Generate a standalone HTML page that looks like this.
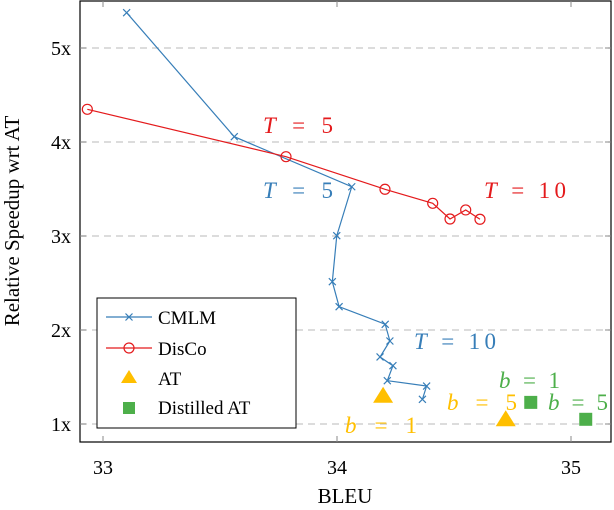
<!DOCTYPE html>
<html><head><meta charset="utf-8"><style>
html,body{margin:0;padding:0;background:#fff;}
svg{display:block;font-family:"Liberation Serif",serif;}
</style></head><body>
<svg id="chart" width="614" height="510" viewBox="0 0 614 510" xmlns="http://www.w3.org/2000/svg">
<g id="grid"></g>
<g id="series"></g>
<rect x="80" y="1" width="531" height="441" fill="none" stroke="#000" stroke-width="1.2"/>
<g id="axes"></g>
<text x="345" y="503" font-size="21" text-anchor="middle">BLEU</text>
<text transform="translate(19,221) rotate(-90)" font-size="21" text-anchor="middle">Relative Speedup wrt AT</text>
<g font-size="23">
<text x="263" y="133" fill="#e41a1c" textLength="70" lengthAdjust="spacing"><tspan font-style="italic">T</tspan> = 5</text>
<text x="263" y="198" fill="#377eb8" textLength="70" lengthAdjust="spacing"><tspan font-style="italic">T</tspan> = 5</text>
<text x="484" y="198" fill="#e41a1c" textLength="82" lengthAdjust="spacing"><tspan font-style="italic">T</tspan> = 10</text>
<text x="414" y="349" fill="#377eb8" textLength="82" lengthAdjust="spacing"><tspan font-style="italic">T</tspan> = 10</text>
<text x="345" y="433" fill="#ffbf00" textLength="72" lengthAdjust="spacing"><tspan font-style="italic">b</tspan> = 1</text>
<text x="447" y="410" fill="#ffbf00" textLength="70" lengthAdjust="spacing"><tspan font-style="italic">b</tspan> = 5</text>
<text x="499" y="388" fill="#4daf4a" textLength="61" lengthAdjust="spacing"><tspan font-style="italic">b</tspan> = 1</text>
<text x="548" y="410" fill="#4daf4a" textLength="60" lengthAdjust="spacing"><tspan font-style="italic">b</tspan> = 5</text>
</g>
<g>
<rect x="97" y="298" width="199" height="130" fill="#fff" stroke="#000" stroke-width="1"/>
<g>
<line x1="106" y1="317" x2="152" y2="317" stroke="#377eb8" stroke-width="1.2"/>
<path d="M125.5 313.5 L132.5 320.5 M125.5 320.5 L132.5 313.5" stroke="#377eb8" stroke-width="1.2"/>
<text x="158" y="324" font-size="19">CMLM</text></g>
<g>
<line x1="106" y1="348" x2="152" y2="348" stroke="#e41a1c" stroke-width="1.2"/>
<circle cx="129" cy="348" r="5" fill="none" stroke="#e41a1c" stroke-width="1.2"/>
<text x="158" y="355" font-size="19">DisCo</text></g>
<g>
<polygon points="129,370 137,383 121,383" fill="#ffbf00"/>
<text x="158" y="385" font-size="19">AT</text></g>
<g>
<rect x="123" y="402" width="12" height="12" fill="#4daf4a"/>
<text x="158" y="414" font-size="19">Distilled AT</text></g>
</g>
</svg>
<script>
const xTicks=[33,34,35];
const yTicks=[1,2,3,4,5];
const yTickLabels=["1x","2x","3x","4x","5x"];
const cmlmX=[33.101,33.561,34.063,33.999,33.980,34.009,34.206,34.226,34.184,34.239,34.215,34.383,34.365];
const cmlmY=[5.376,4.056,3.524,3.003,2.514,2.248,2.061,1.883,1.713,1.620,1.461,1.404,1.263];
const discoX=[32.933,33.782,34.205,34.409,34.483,34.550,34.611];
const discoY=[4.348,3.844,3.497,3.348,3.181,3.277,3.178];
const atX=[34.197,34.721];
const atY=[1.29,1.04];
const distX=[34.828,35.063];
const distY=[1.23,1.05];
const NS="http://www.w3.org/2000/svg";
const X=v=>103+(v-33)*234;
const Y=v=>424-(v-1)*94;
function mk(tag,attrs,parent){const e=document.createElementNS(NS,tag);for(const k in attrs)e.setAttribute(k,attrs[k]);parent.appendChild(e);return e;}
const grid=document.getElementById('grid'),axes=document.getElementById('axes'),series=document.getElementById('series');
yTicks.forEach((t,i)=>{
 const g=mk('line',{x1:80,x2:611,y1:Y(t),y2:Y(t),stroke:'#c8c8c8','stroke-width':1.2,'stroke-dasharray':'7,5'},grid);
 
 
 mk('line',{x1:80,x2:86,y1:Y(t),y2:Y(t),stroke:'#888'},axes);
 mk('line',{x1:605,x2:611,y1:Y(t),y2:Y(t),stroke:'#888'},axes);
 const l=mk('text',{x:71,y:Y(t)+7,'font-size':20,'text-anchor':'end'},axes);
 l.textContent=yTickLabels[i];
 
 
});
xTicks.forEach(t=>{
 mk('line',{x1:X(t),x2:X(t),y1:436,y2:442,stroke:'#888'},axes);
 mk('line',{x1:X(t),x2:X(t),y1:1,y2:7,stroke:'#888'},axes);
 const l=mk('text',{x:X(t),y:474,'font-size':20,'text-anchor':'middle'},axes);
 l.textContent=t;
 
 
});
const cl=mk('polyline',{points:cmlmX.map((x,i)=>X(x)+','+Y(cmlmY[i])).join(' '),fill:'none',stroke:'#377eb8','stroke-width':1.2},series);


cmlmX.forEach((x,i)=>{const cx=X(x),cy=Y(cmlmY[i]);
 const m=mk('path',{d:`M${cx-3.5} ${cy-3.5}L${cx+3.5} ${cy+3.5}M${cx-3.5} ${cy+3.5}L${cx+3.5} ${cy-3.5}`,stroke:'#377eb8','stroke-width':1.2},series);
 
 });
const dl=mk('polyline',{points:discoX.map((x,i)=>X(x)+','+Y(discoY[i])).join(' '),fill:'none',stroke:'#e41a1c','stroke-width':1.2},series);


discoX.forEach((x,i)=>{
 const m=mk('circle',{cx:X(x),cy:Y(discoY[i]),r:5,fill:'none',stroke:'#e41a1c','stroke-width':1.2},series);
 
 });
atX.forEach((x,i)=>{const cx=X(x),cy=Y(atY[i]);
 const m=mk('polygon',{points:`${cx},${cy-10} ${cx+10},${cy+6} ${cx-10},${cy+6}`,fill:'#ffbf00'},series);
 
 });
distX.forEach((x,i)=>{const cx=X(x),cy=Y(distY[i]);
 const m=mk('rect',{x:cx-6.5,y:cy-6.5,width:13,height:13,fill:'#4daf4a'},series);
 
 });
</script>
</body></html>
